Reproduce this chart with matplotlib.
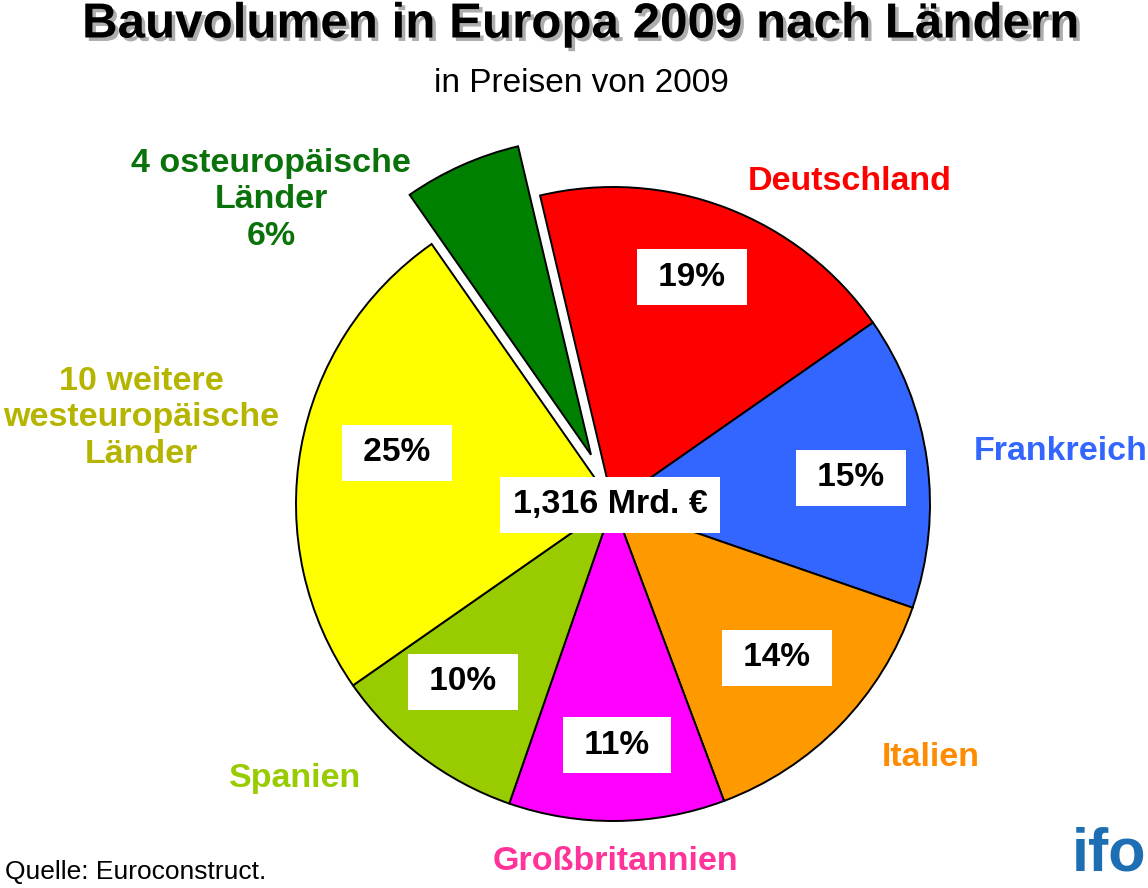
import matplotlib
matplotlib.use("Agg")
import matplotlib.pyplot as plt
import matplotlib.patheffects as pe

plt.rcParams["font.family"] = ["Liberation Sans", "DejaVu Sans"]

# data
countries = ["Deutschland", "Frankreich", "Italien", "Großbritannien", "Spanien",
             "10 weitere\nwesteuropäische\nLänder", "4 osteuropäische\nLänder\n6%"]
shares = [19, 15, 14, 11, 10, 25, 6]
pct_labels = ["19%", "15%", "14%", "11%", "10%", "25%", None]
total_label = "1,316 Mrd. €"

wedge_colors = ["#FF0000", "#3366FF", "#FF9900", "#FF00FF", "#99CC00", "#FFFF00", "#008000"]
label_colors = ["#FF0000", "#3366FF", "#FF8C00", "#FF3399", "#99CC00", "#B5B500", "#0A720A"]

W, H = 1148, 888
CX, CY, R = 613, 504, 317


def py(y):
    # pixel row -> data y
    return H - y


# label positions in pixels (x, y)
outer_pos = [(850, 181), (1061, 452), (931, 757), (615, 862), (295, 778), (141, 418), (271, 200)]
pct_pos = [(692, 277), (851, 478), (777, 658), (617, 745), (463, 682), (397, 453), None]

fig = plt.figure(figsize=(W / 100, H / 100), dpi=100)
fig.patch.set_facecolor("white")
ax = fig.add_axes([0, 0, 1, 1])

explode = [0, 0, 0, 0, 0, 0, 0.17 * R]
ax.pie(shares, colors=wedge_colors, startangle=103.3, counterclock=False,
       explode=explode, center=(CX, py(CY)), radius=R,
       wedgeprops=dict(edgecolor="black", linewidth=1.4))

ax.set_xlim(0, W)
ax.set_ylim(0, H)
ax.set_aspect("equal")
ax.axis("off")

for name, col, (x, y) in zip(countries, label_colors, outer_pos):
    ax.text(x, py(y), name, color=col, fontsize=24.5, fontweight="bold",
            ha="center", va="center", linespacing=1.22)

for lab, pos in zip(pct_labels, pct_pos):
    if lab is None:
        continue
    ax.text(pos[0], py(pos[1]), " " + lab + " ", fontsize=24, fontweight="bold", color="black",
            ha="center", va="center",
            bbox=dict(boxstyle="square,pad=0.38", facecolor="white", edgecolor="none"))

ax.text(610, py(505), total_label, fontsize=24.5, fontweight="bold", color="black",
        ha="center", va="center",
        bbox=dict(boxstyle="square,pad=0.38", facecolor="white", edgecolor="none"))

# title and notes
ax.text(580, py(25), "Bauvolumen in Europa 2009 nach Ländern", fontsize=35.5,
        fontweight="bold", ha="center", va="center",
        path_effects=[pe.withSimplePatchShadow(offset=(2.5, -2.5), shadow_rgbFace="#999999", alpha=0.8)])
ax.text(581, py(84), "in Preisen von 2009", fontsize=24, ha="center", va="center")
ax.text(5, py(872), "Quelle: Euroconstruct.", fontsize=19, ha="left", va="center")
ax.text(1146, py(855), "ifo", fontsize=44, fontweight="heavy", color="#1E6EB4",
        ha="right", va="center")

fig.savefig("out.png", dpi=100, facecolor="white")
